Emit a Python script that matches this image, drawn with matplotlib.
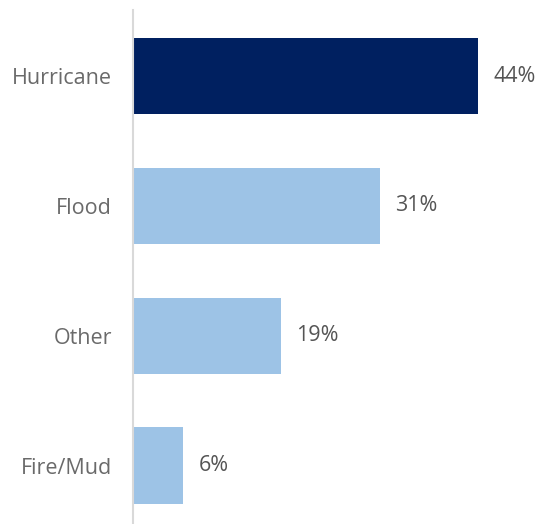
import matplotlib
matplotlib.use("Agg")
import matplotlib.pyplot as plt

categories = ["Hurricane", "Flood", "Other", "Fire/Mud"]
values = [44, 31.5, 18.9, 6.4]
labels = ["44%", "31%", "19%", "6%"]
colors = ["#002060", "#9DC3E6", "#9DC3E6", "#9DC3E6"]

plt.rcParams['font.family'] = ['Open Sans', 'DejaVu Sans']
W, H = 544, 524
fig = plt.figure(figsize=(W / 100, H / 100), dpi=100)
ax = fig.add_axes([133 / W, 0, 392 / W, 514 / H])

pos = list(range(len(categories)))
ax.barh(pos, values, height=0.59, color=colors, zorder=2)
ax.set_xlim(0, 50)
ax.set_ylim(3.45, -0.51)
ax.set_yticks(pos)
ax.set_yticklabels(categories, fontsize=15.5, color="#6a6a6a")
ax.tick_params(axis='y', length=0, pad=15)
ax.set_xticks([])
for s in ["top", "right", "bottom"]:
    ax.spines[s].set_visible(False)
ax.spines["left"].set_color("#D9D9D9")
ax.spines["left"].set_linewidth(1.5)
ax.spines["left"].set_zorder(3)

for p, v, t in zip(pos, values, labels):
    ax.annotate(t, (v, p), xytext=(11, 0), textcoords="offset points",
                va="center", ha="left", fontsize=15.5, color="#555555")

fig.savefig("out.png", dpi=100)
